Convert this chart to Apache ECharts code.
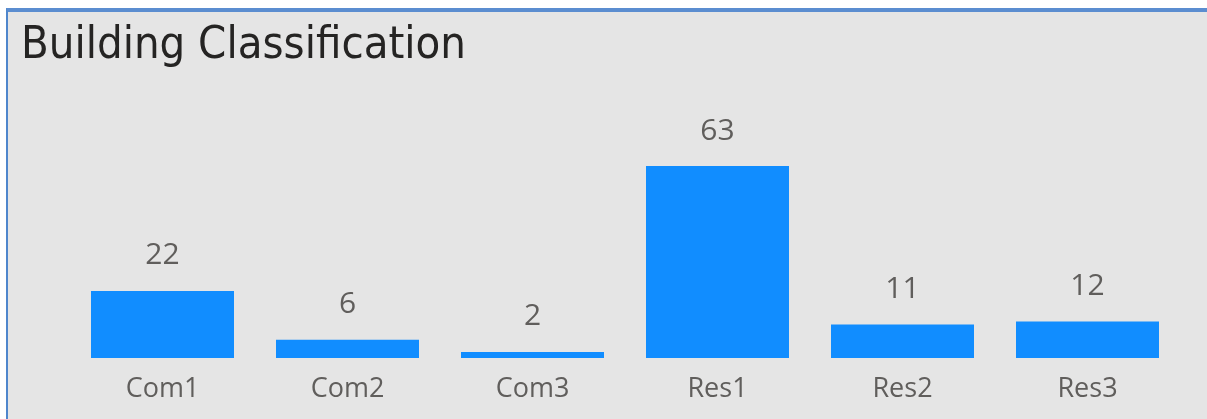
<!DOCTYPE html>
<html><head><meta charset="utf-8">
<script src="https://cdn.jsdelivr.net/npm/echarts@6/dist/echarts.min.js"></script>
<style>
html,body{margin:0;padding:0;background:#ffffff;}
#frame{position:absolute;left:6px;top:8px;width:1201px;height:411px;background:#e5e5e5;border-left:2px solid #4f86cc;border-top:4px solid #5b8dd0;box-sizing:border-box;}
#chart{position:absolute;left:0;top:0;width:1207px;height:419px;}
</style></head>
<body>
<div id="frame"></div>
<div id="chart"></div>
<script>
const titleText = 'Building Classification';
const categories = ['Com1','Com2','Com3','Res1','Res2','Res3'];
const values = [22, 6, 2, 63, 11, 12];

const chart = echarts.init(document.getElementById('chart'), null, {renderer:'canvas'});
chart.setOption({
  backgroundColor: 'transparent',
  animation: false,
  title: {
    text: titleText,
    left: 16, top: 19,
    textStyle: {fontFamily: '"DejaVu Sans Condensed", sans-serif', fontSize: 45, fontWeight: 'normal', color: '#252423'}
  },
  grid: {left: 70, right: 27, top: 166, bottom: 61},
  xAxis: {
    type: 'category', data: categories,
    axisLine: {show: false}, axisTick: {show: false},
    axisLabel: {margin: 18, fontFamily: '"Open Sans", sans-serif', fontSize: 27, color: '#605e5c'}
  },
  yAxis: {type: 'value', min: 0, max: 63, show: false, splitLine: {show: false}},
  series: [{
    type: 'bar', data: values, barWidth: '77.3%',
    itemStyle: {color: '#118dff'},
    label: {show: true, position: 'top', distance: 20, fontFamily: '"Open Sans", sans-serif', fontSize: 30, color: '#605e5c'}
  }]
});
</script>
</body></html>
